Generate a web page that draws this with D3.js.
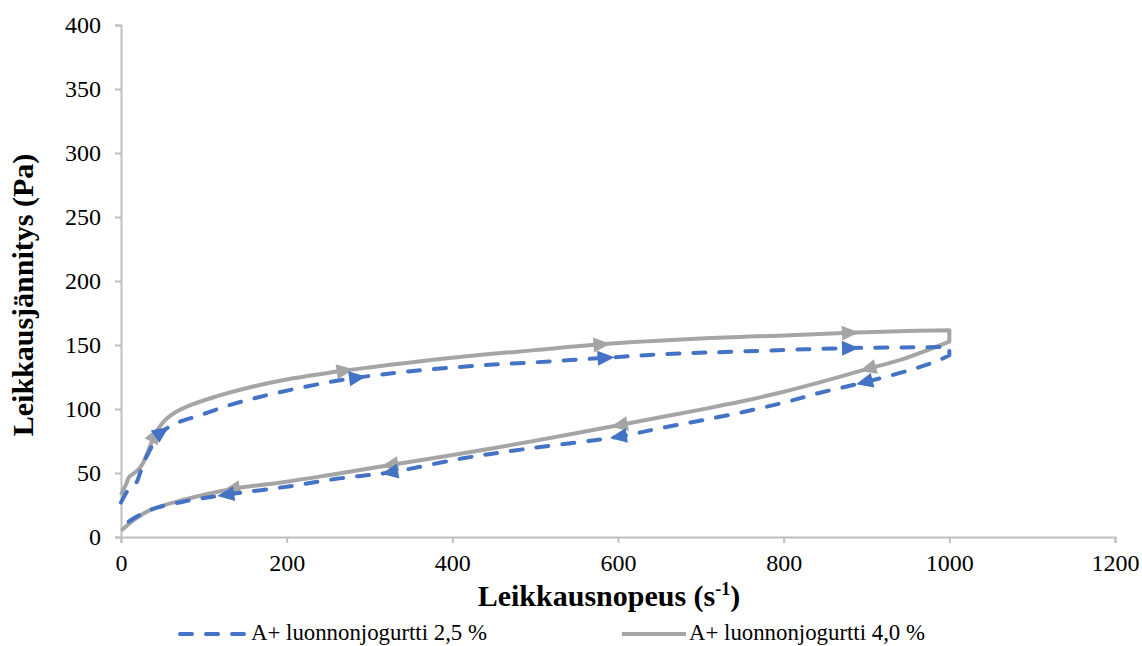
<!DOCTYPE html>
<html>
<head>
<meta charset="utf-8">
<script src="https://cdn.jsdelivr.net/npm/d3@7/dist/d3.min.js"></script>
<style>
  html, body { margin: 0; padding: 0; background: #fff; }
</style>
</head>
<body>
<svg id="chart" width="1142" height="646" style="font-family: 'Liberation Serif'"></svg>
<script>
// Flow curves: shear rate (1/s) vs shear stress (Pa), up-sweep then down-sweep
const seriesNames = ["A+ luonnonjogurtti 2,5 %", "A+ luonnonjogurtti 4,0 %"];

// 2,5 % yogurt: up-sweep to 1000 1/s, then back down
const yog25 = [
  [0,27],[5,33],[10,38],[13,39],[19,43],[23,50],[27,57.6],[35,68],[43,78],[49,82],[67,89],[95,95],
  [136,104],[184,112],[248,120.6],[285,124.5],[350,129.5],[433,134],[500,136.5],[585,140],[651,142.7],
  [750,145],[880,147.6],[1000,148.4],
  [1000,142],[987,138],[953,130.5],[898,121],[844,112.7],[800,105],[750,97.5],[700,91],[651,85],
  [601,78.4],[494,69.3],[413,61.5],[325,50.5],[264,45.8],[200,39.3],[127,33],[75,27.6],[35,21],
  [7,10.7],[0,4]
];

// 4,0 % yogurt
const yog40 = [
  [0,33],[3,37],[6,41],[10,47],[14,49],[20,52],[26,57],[32,66],[41,80],[50,89],[60,95],[80,102],
  [116,110],[156,117],[200,123],[270,130],[300,132.5],[400,140],[500,146],[580,150.5],[700,155],
  [800,157.5],[880,159.5],[950,161],[1000,161.5],
  [1000,152.6],[944,139],[902,131.5],[850,122],[800,113.5],[750,106],[700,99.5],[651,93.5],
  [602,87.5],[494,74.5],[413,65.4],[325,56.3],[252,48.5],[200,43.2],[134,37.5],[75,28.9],
  [35,21],[15,13],[0.5,5]
];

// index of the last up-sweep point (the curve then drops at 1000 1/s)
const turn25 = 23, turn40 = 24;

// indices of points carrying a direction arrow
const arrows25 = [9, 15, 19, 22, 27, 33, 36, 39];
const arrows40 = [8, 15, 19, 22, 27, 33, 36, 39];

const xTicks = [0, 200, 400, 600, 800, 1000, 1200];
const yTicks = [0, 50, 100, 150, 200, 250, 300, 350, 400];

const FONT = '"Liberation Serif"';

const svg = d3.select("#chart");
const plotLeft = 121, plotRight = 1115, plotTop = 25, plotBottom = 537;

const x = d3.scaleLinear().domain([0, 1200]).range([plotLeft, plotRight]);
const y = d3.scaleLinear().domain([0, 400]).range([plotBottom, plotTop]);

const axisColor = "#BFBFBF";

function styleAxis(g) {
  g.attr("font-family", null).attr("font-size", null);
  g.select(".domain").attr("stroke", axisColor).attr("stroke-width", 2);
  g.selectAll(".tick line").attr("stroke", axisColor).attr("stroke-width", 2);
  g.selectAll(".tick text")
    .style("font-family", FONT).style("font-size", "24px").attr("fill", "#000");
}

// x axis
svg.append("g").attr("transform", `translate(0,${plotBottom})`)
  .call(d3.axisBottom(x).tickValues(xTicks).tickFormat(d3.format("d")).tickSize(6).tickPadding(11))
  .call(styleAxis);

// y axis
svg.append("g").attr("transform", `translate(${plotLeft},0)`)
  .call(d3.axisLeft(y).tickValues(yTicks).tickFormat(d3.format("d")).tickSize(6).tickPadding(14))
  .call(styleAxis);

// axis titles
const xTitle = svg.append("text")
  .attr("x", 609).attr("y", 606)
  .attr("text-anchor", "middle")
  .style("font-family", FONT).style("font-size", "30px").style("font-weight", "bold");
xTitle.append("tspan").text("Leikkausnopeus (s");
xTitle.append("tspan").attr("dy", -11).style("font-size", "18px").text("-1");
xTitle.append("tspan").attr("dy", 11).text(")");

svg.append("text")
  .attr("transform", "translate(33,295) rotate(-90)")
  .attr("text-anchor", "middle")
  .style("font-family", FONT).style("font-size", "30px").style("font-weight", "bold")
  .text("Leikkausjännitys (Pa)");

const line = d3.line().x(d => x(d[0])).y(d => y(d[1])).curve(d3.curveCatmullRom.alpha(0.5));

// smooth sweeps joined by a straight drop at the turning point
function loopPath(data, turn) {
  const up = line(data.slice(0, turn + 1));
  const drop = "L" + x(data[turn + 1][0]) + "," + y(data[turn + 1][1]);
  const down = line(data.slice(turn + 1)).replace(/^M/, "L");
  return up + drop + down;
}

const styles = [
  { data: yog25, turn: turn25, arrows: arrows25, color: "#4472C4", dash: "12,14" },
  { data: yog40, turn: turn40, arrows: arrows40, color: "#A5A5A5", dash: null }
];

// gray series first, dashed series on top
[styles[1], styles[0]].forEach(s => {
  svg.append("path")
    .attr("d", loopPath(s.data, s.turn))
    .attr("fill", "none")
    .attr("stroke", s.color)
    .attr("stroke-width", 4)
    .attr("stroke-linecap", s.dash ? "round" : "butt")
    .attr("stroke-linejoin", "round")
    .attr("stroke-dasharray", s.dash);

  svg.append("g").selectAll("path")
    .data(s.arrows)
    .join("path")
    .attr("d", "M9,0 L-8,-7.5 L-8,7.5 Z")
    .attr("fill", s.color)
    .attr("transform", i => {
      const p = s.data[i], a = s.data[i - 1], b = s.data[i + 1];
      const ang = Math.atan2(y(b[1]) - y(a[1]), x(b[0]) - x(a[0])) * 180 / Math.PI;
      return `translate(${x(p[0])},${y(p[1])}) rotate(${ang})`;
    });
});

// legend
const legend = [
  { name: seriesNames[0], color: "#4472C4", dash: "12,14", x0: 180, x1: 244, tx: 251 },
  { name: seriesNames[1], color: "#A5A5A5", dash: null, x0: 622, x1: 686, tx: 689 }
];
const lg = svg.append("g");
legend.forEach(l => {
  lg.append("line")
    .attr("x1", l.x0).attr("x2", l.x1).attr("y1", 634).attr("y2", 634)
    .attr("stroke", l.color).attr("stroke-width", 4)
    .attr("stroke-linecap", l.dash ? "round" : "butt")
    .attr("stroke-dasharray", l.dash);
  lg.append("text")
    .attr("x", l.tx).attr("y", 640)
    .attr("textLength", 236).attr("lengthAdjust", "spacingAndGlyphs")
    .style("font-family", FONT).style("font-size", "24px")
    .text(l.name);
});
</script>
</body>
</html>
